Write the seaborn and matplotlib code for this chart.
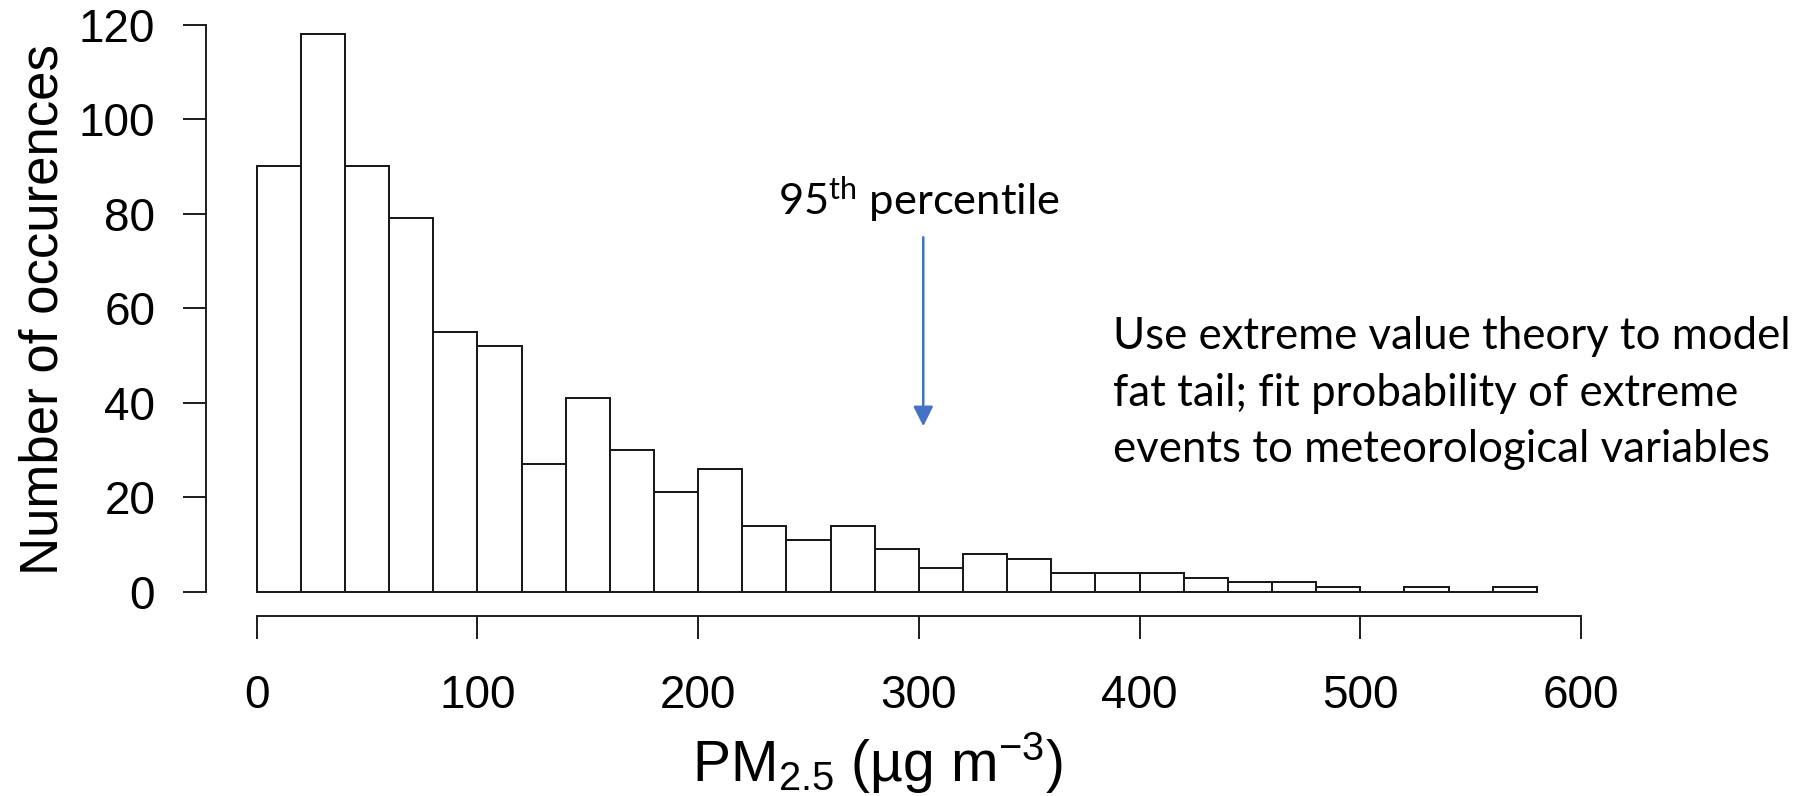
import numpy as np
import pandas as pd
import seaborn as sns
import matplotlib
matplotlib.use("Agg")
import matplotlib.pyplot as plt

# ---- data ----
bin_edges = list(range(0, 580, 20))  # lower edges 0..560
bin_counts = [90, 118, 90, 79, 55, 52, 27, 41, 30, 21, 26, 14, 11, 14, 9,
              5, 8, 7, 4, 4, 4, 3, 2, 2, 1, 0, 1, 0, 1]
x_ticks = [0, 100, 200, 300, 400, 500, 600]
y_ticks = [0, 20, 40, 60, 80, 100, 120]
percentile_x = 302
arrow_from_y = 75
arrow_to_y = 35
x_label = r"PM$_{2.5}$ (µg m$^{-3}$)"
y_label = "Number of occurences"
pct_label = r"95$^{\mathregular{th}}$ percentile"
note_label = ("Use extreme value theory to model\n"
              "fat tail; fit probability of extreme\n"
              "events to meteorological variables")

edges = [float(e) for e in bin_edges] + [float(bin_edges[-1] + 20)]
centers = [e + 10.0 for e in bin_edges]
df = pd.DataFrame({"pm": centers, "n": bin_counts})

sns.set_style("ticks")
plt.rcParams["font.family"] = ["Liberation Sans", "DejaVu Sans"]
plt.rcParams["mathtext.default"] = "regular"

W, H = 1818, 796
fig = plt.figure(figsize=(W / 100, H / 100), dpi=100)
px = 0.72  # points per pixel at dpi 100

# axes geometry in pixels
left_px, right_px = 206, 1600
top_px, bottom_px = 20, 616
ax = fig.add_axes([left_px / W, 1 - bottom_px / H,
                   (right_px - left_px) / W, (bottom_px - top_px) / H])

sns.histplot(data=df, x="pm", weights="n", binwidth=20, binrange=(0, 580),
             stat="count", color="white", edgecolor="#1a1a1a",
             linewidth=2.0 * px, alpha=1, ax=ax)

x0_px, x600_px = 256.7, 1581.0
y0_px, y120_px = 591.7, 24.5
sx = (x600_px - x0_px) / 600
sy = (y0_px - y120_px) / 120
ax.set_xlim((left_px - x0_px) / sx, (right_px - x0_px) / sx)
ax.set_ylim((y0_px - bottom_px) / sy, (y0_px - top_px) / sy)

for s in ["top", "right"]:
    ax.spines[s].set_visible(False)
ax.spines["left"].set_bounds(0, 120)
ax.spines["bottom"].set_bounds(0, 600)
for s in ["left", "bottom"]:
    ax.spines[s].set_linewidth(2.0 * px)
    ax.spines[s].set_color("#222222")

ax.set_xticks(x_ticks)
ax.set_yticks(y_ticks)
ax.tick_params(axis="both", length=23 * px, width=2.0 * px, color="#222222",
               labelsize=33, labelcolor="black")
ax.tick_params(axis="x", pad=25)
ax.tick_params(axis="y", pad=20)
ax.set_xlabel("")
ax.set_ylabel("")

fig.text(58 / W, 1 - 310 / H, y_label, rotation=90, rotation_mode="anchor",
         ha="center", va="baseline", fontsize=38, color="black")
fig.text(692 / W, 1 - 782 / H, x_label, ha="left", va="baseline",
         fontsize=41, color="black")

ax.text((778 - x0_px) / sx, (y0_px - 215) / sy, pct_label,
        family=["Lato", "DejaVu Sans"], fontsize=31.3, ha="left", va="baseline",
        color="black")
ax.annotate("", xy=(percentile_x, arrow_to_y), xytext=(percentile_x, arrow_from_y),
            arrowprops=dict(arrowstyle="-|>,head_length=0.6,head_width=0.3",
                            mutation_scale=20, color="#4472C4", lw=2.5 * px,
                            shrinkA=0, shrinkB=0))
ax.text((1113 - x0_px) / sx, (y0_px - 316) / sy, note_label,
        family=["Lato", "DejaVu Sans"], fontsize=31.5, ha="left", va="top",
        linespacing=1.47, color="black")

fig.savefig("out.png", dpi=100)
